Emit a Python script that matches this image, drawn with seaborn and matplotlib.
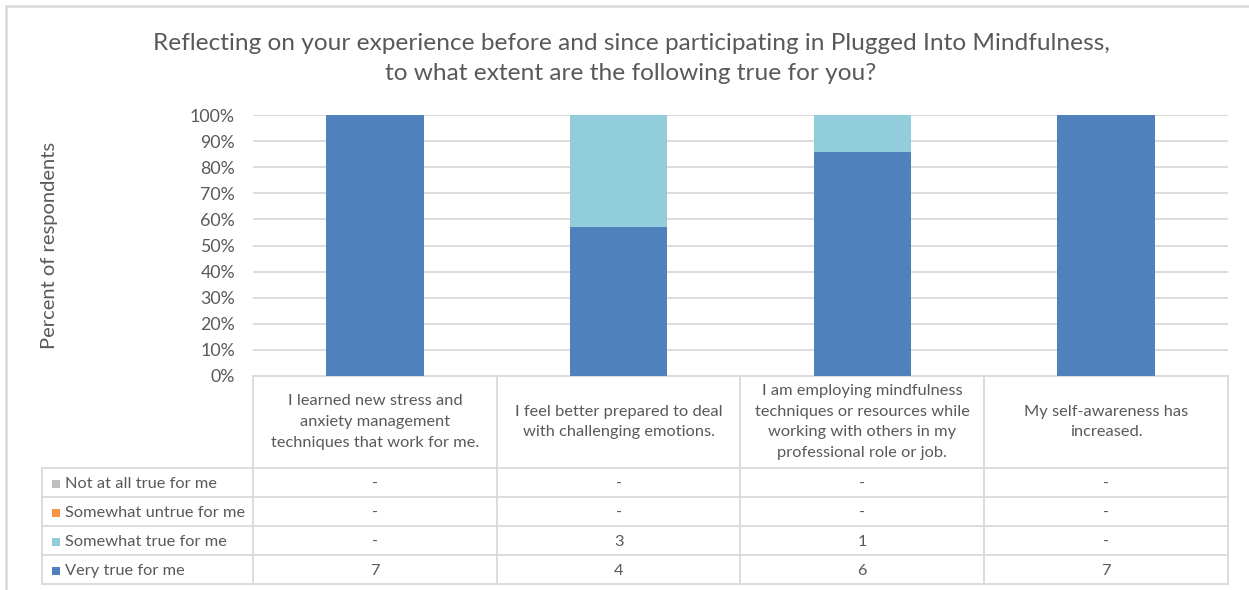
import matplotlib
matplotlib.use("Agg")
import matplotlib.pyplot as plt
import seaborn as sns
import numpy as np
import pandas as pd
from matplotlib.lines import Line2D
from matplotlib.patches import Rectangle

categories = [
    "I learned new stress and\nanxiety management\ntechniques that work for me.",
    "I feel better prepared to deal\nwith challenging emotions.",
    "I am employing mindfulness\ntechniques or resources while\nworking with others in my\nprofessional role or job.",
    "My self-awareness has\nincreased.",
]
series_names = ["Not at all true for me", "Somewhat untrue for me",
                "Somewhat true for me", "Very true for me"]
not_at_all = [0, 0, 0, 0]
somewhat_untrue = [0, 0, 0, 0]
somewhat_true = [0, 3, 1, 0]
very_true = [7, 4, 6, 7]
colors = ["#BFBFBF", "#F79646", "#92CDDC", "#4F81BD"]
title_lines = ["Reflecting on your experience before and since participating in Plugged Into Mindfulness,",
               "to what extent are the following true for you?"]
ylabel = "Percent of respondents"
yticks = [0, 10, 20, 30, 40, 50, 60, 70, 80, 90, 100]

sns.set_theme(style="white")
plt.rcParams["font.family"] = ["Lato", "DejaVu Sans"]

W, H = 1249, 590
fig = plt.figure(figsize=(W / 100, H / 100), dpi=100)
fig.patch.set_facecolor("white")

def fx(x):
    return x / W

def fy(y):
    return 1 - y / H

TXT = "#595959"

ov = fig.add_axes([0, 0, 1, 1], zorder=0)
ov.set_xlim(0, W)
ov.set_ylim(H, 0)
ov.axis("off")

# chart border
ov.add_line(Line2D([6, 6], [6, H], color="#D9D9D9", lw=1.8))
ov.add_line(Line2D([6, W], [6, 6], color="#D9D9D9", lw=1.8))

# main plot axes
L, R, T, B = 253, 1228, 115, 376
ax = fig.add_axes([fx(L), fy(B), fx(R - L), (B - T) / H], zorder=2)
ax.patch.set_alpha(0)

series = [not_at_all, somewhat_untrue, somewhat_true, very_true]
arr = np.array(series, dtype=float)
totals = arr.sum(axis=0)
pct = arr / totals * 100
order_bottom_up = [3, 2, 1, 0]
cum = np.zeros(4)
cums = {}
for i in order_bottom_up:
    cum = cum + pct[i]
    cums[i] = cum.copy()

labels_short = [f"c{i}" for i in range(4)]
for i in [0, 1, 2, 3]:  # tallest cumulative first
    df = pd.DataFrame({"cat": labels_short, "val": cums[i]})
    sns.barplot(data=df, x="cat", y="val", color=colors[i], saturation=1,
                width=0.4, ax=ax, edgecolor="none", linewidth=0, zorder=3)

ax.set_ylim(0, 100)
ax.set_xlim(-0.5, 3.5)
ax.set_yticks(yticks)
ax.set_yticklabels([f"{t}%" for t in yticks], color=TXT, fontsize=12.8)
ax.set_xticks([])
ax.set_xlabel("")
ax.set_ylabel("")
for t in yticks[1:]:
    ax.axhline(t, color="#D9D9D9", lw=1.3, zorder=1)
for s in ax.spines.values():
    s.set_visible(False)
ax.tick_params(axis="y", length=0, pad=13)

ov.text(50, 245, ylabel, rotation=90, ha="center", va="center",
        color=TXT, fontsize=14.5)

fig.text(fx(631), fy(43), title_lines[0], ha="center", va="center",
         color=TXT, fontsize=17.6)
fig.text(fx(631), fy(73), title_lines[1], ha="center", va="center",
         color=TXT, fontsize=17.6)

# data table
grid_c = "#D9D9D9"
col_x = [L + (R - L) * k / 4 for k in range(5)]
row_y = [B, 468, 497, 526, 555, 584]
TL = 42
lw = 1.3
ov.add_line(Line2D([L, R], [B, B], color=grid_c, lw=lw))
for y in row_y[1:]:
    ov.add_line(Line2D([TL, R], [y, y], color=grid_c, lw=lw))
for x in col_x:
    ov.add_line(Line2D([x, x], [B, 584], color=grid_c, lw=lw))
ov.add_line(Line2D([TL, TL], [468, 584], color=grid_c, lw=lw))

FS = 11.8
for k, c in enumerate(categories):
    cx = (col_x[k] + col_x[k + 1]) / 2
    ov.text(cx, (B + 468) / 2, c, ha="center", va="center", color=TXT,
            fontsize=FS, linespacing=1.62)

for r, i in enumerate([0, 1, 2, 3]):
    yc = (row_y[r + 1] + row_y[r + 2]) / 2 + 1.5
    ov.add_patch(Rectangle((52, yc - 4.5), 8, 8, color=colors[i], lw=0))
    ov.text(65, yc, series_names[i], ha="left", va="center", color=TXT,
            fontsize=FS)
    for k in range(4):
        cx = (col_x[k] + col_x[k + 1]) / 2
        v = series[i][k]
        ov.text(cx, yc, "-" if v == 0 else str(v), ha="center", va="center",
                color=TXT, fontsize=FS)

fig.savefig("out.png", dpi=100, facecolor="white")
